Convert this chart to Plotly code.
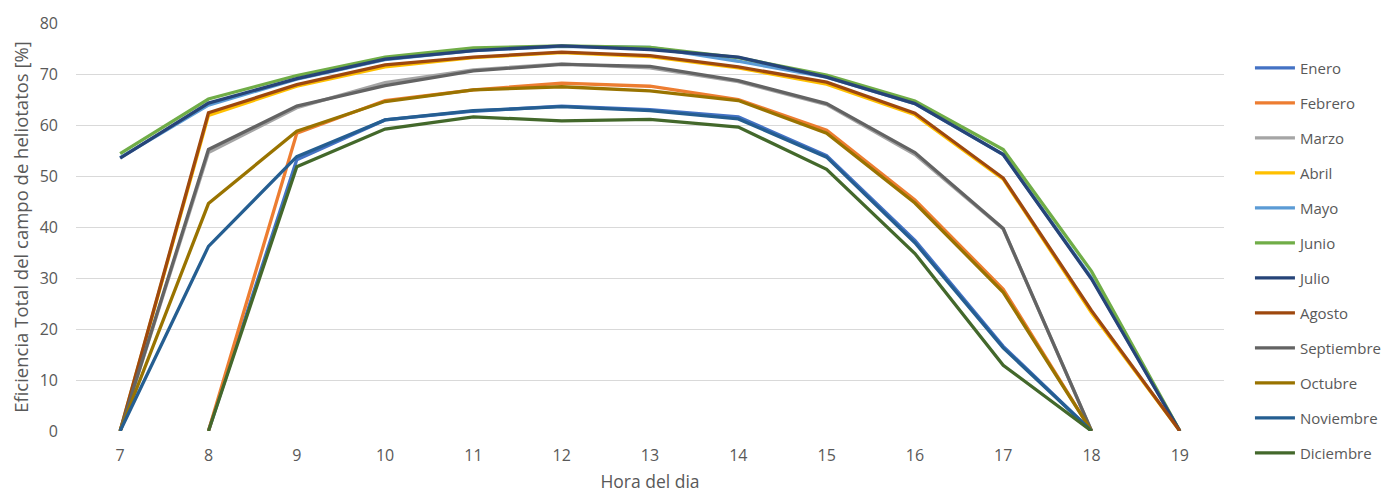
import plotly.graph_objects as go

horas = [7, 8, 9, 10, 11, 12, 13, 14, 15, 16, 17, 18, 19]

enero      = [None, 0, 53.2, 61.0, 62.7, 63.7, 63.0, 61.6, 54.0, 37.4, 16.6, 0, None]
febrero    = [None, 0, 58.4, 64.8, 66.9, 68.2, 67.6, 65.0, 59.0, 45.3, 27.8, 0, None]
marzo      = [0, 54.6, 63.4, 68.3, 70.8, 72.0, 71.2, 68.5, 64.0, 54.2, 39.6, 0, None]
abril      = [0, 61.9, 67.6, 71.4, 73.2, 74.2, 73.4, 71.2, 68.0, 62.0, 49.4, 23.2, 0]
mayo       = [53.6, 63.9, 69.0, 72.8, 74.6, 75.4, 75.2, 72.5, 69.4, 64.2, 54.2, 30.0, 0]
junio      = [54.4, 65.1, 69.7, 73.3, 75.1, 75.5, 75.2, 73.2, 69.8, 64.7, 55.2, 31.3, 0]
julio      = [53.5, 64.3, 69.1, 72.9, 74.6, 75.5, 74.8, 73.3, 69.4, 64.2, 54.2, 29.8, 0]
agosto     = [0, 62.4, 67.9, 71.8, 73.3, 74.3, 73.6, 71.4, 68.4, 62.3, 49.6, 23.6, 0]
septiembre = [0, 55.2, 63.7, 67.7, 70.6, 71.9, 71.5, 68.7, 64.2, 54.6, 39.7, 0, None]
octubre    = [0, 44.6, 58.8, 64.6, 66.9, 67.5, 66.7, 64.8, 58.4, 44.7, 27.2, 0, None]
noviembre  = [0, 36.2, 53.8, 61.0, 62.8, 63.6, 62.8, 61.2, 53.7, 36.9, 16.3, 0, None]
diciembre  = [None, 0, 51.8, 59.2, 61.6, 60.8, 61.1, 59.6, 51.3, 34.8, 12.9, 0, None]

series = [
    ("Enero", enero, "#4472C4"),
    ("Febrero", febrero, "#ED7D31"),
    ("Marzo", marzo, "#A5A5A5"),
    ("Abril", abril, "#FFC000"),
    ("Mayo", mayo, "#5B9BD5"),
    ("Junio", junio, "#70AD47"),
    ("Julio", julio, "#264478"),
    ("Agosto", agosto, "#9E480E"),
    ("Septiembre", septiembre, "#636363"),
    ("Octubre", octubre, "#997300"),
    ("Noviembre", noviembre, "#255E91"),
    ("Diciembre", diciembre, "#43682B"),
]

FONT = "Open Sans"
TXT = "#595959"

fig = go.Figure()
for name, vals, color in series:
    fig.add_trace(go.Scatter(
        x=horas, y=vals, name=name, mode="lines",
        line=dict(color=color, width=3.3),
        legendgroup=name, connectgaps=False,
    ))

# the page body has an 8px margin, so the figure is sized/offset to fit the window
fig.update_layout(
    width=1383, height=486,
    margin=dict(l=68, r=167, t=15, b=63, autoexpand=False),
    paper_bgcolor="white", plot_bgcolor="white",
    font=dict(family=FONT, color=TXT, size=16),
    showlegend=True,
    legend=dict(
        x=1.0226, y=0.93, xanchor="left", yanchor="top",
        font=dict(family=FONT, size=15, color=TXT),
        tracegroupgap=12.5, itemwidth=40, maxheight=1000,
        bgcolor="rgba(0,0,0,0)",
    ),
    xaxis=dict(
        range=[6.5, 19.5], tickmode="array", tickvals=horas,
        ticktext=[str(h) for h in horas],
        showgrid=False, zeroline=False, showline=False,
        ticks="", ticklabelstandoff=13, automargin=False,
        tickfont=dict(size=16, color=TXT),
        title=dict(text="Hora del dia", font=dict(size=17.5, color=TXT), standoff=10),
    ),
    yaxis=dict(
        range=[0, 80], tickmode="array", tickvals=list(range(0, 81, 10)),
        showgrid=True, gridcolor="#D9D9D9", gridwidth=1.3,
        zeroline=False, showline=False, ticks="",
        ticklabelstandoff=17, automargin=False,
        tickfont=dict(size=16, color=TXT),
        title=dict(text="Eficiencia Total del campo de heliotatos [%]", font=dict(size=18.5, color=TXT), standoff=8),
    ),
)

fig.write_html("out.html")
